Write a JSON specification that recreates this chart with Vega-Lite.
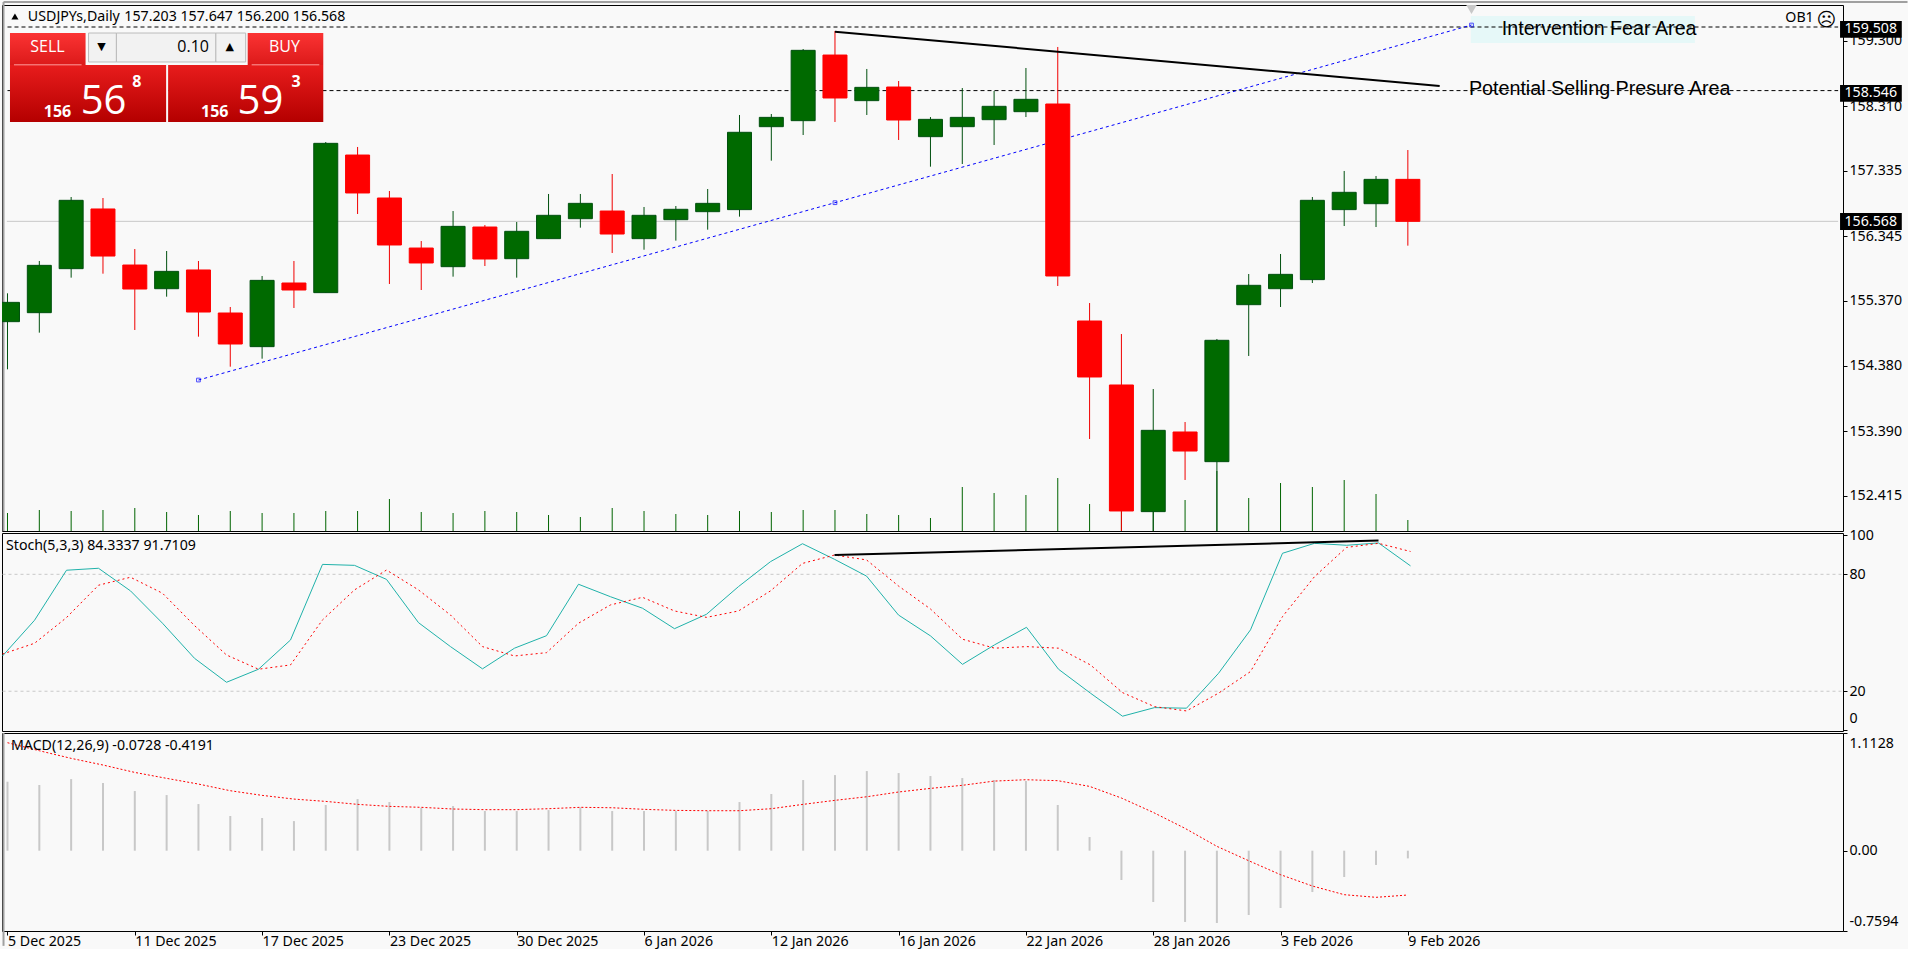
{
"$schema":"https://vega.github.io/schema/vega-lite/v6.json",
"background":"#f9f9f9",
"padding":{"left":-3,"top":0,"right":-2,"bottom":0},
"spacing":2,
"bounds":"flush",
"config":{"view":{"stroke":"#000000","strokeWidth":1},"axis":{"domain":false,"grid":false,"tickColor":"#000000","tickSize":4,"labelColor":"#000000","labelFont":"Noto Sans","labelFontSize":14.2,"labelPadding":2,"title":null},"text":{"font":"Noto Sans","fontSize":14.2,"color":"#000000","baseline":"middle","align":"left"}},
"datasets":{
"bars":[
{"bar":0,"date":"2025-12-05","open":155.05,"high":155.479,"low":154.329,"close":155.342,"volume":18,"k":38.1,"d":39.1,"hist":0.652,"signal":1.021},
{"bar":1,"date":"2025-12-08","open":155.186,"high":155.968,"low":154.884,"close":155.902,"volume":21,"k":56.4,"d":44.6,"hist":0.621,"signal":0.945},
{"bar":2,"date":"2025-12-09","open":155.852,"high":156.936,"low":155.716,"close":156.886,"volume":20,"k":82.1,"d":57.8,"hist":0.677,"signal":0.873},
{"bar":3,"date":"2025-12-10","open":156.755,"high":156.921,"low":155.776,"close":156.043,"volume":21,"k":83.1,"d":74.4,"hist":0.64,"signal":0.81},
{"bar":4,"date":"2025-12-11","open":155.907,"high":156.149,"low":154.924,"close":155.544,"volume":23,"k":71.5,"d":78.5,"hist":0.564,"signal":0.74},
{"bar":5,"date":"2025-12-12","open":155.549,"high":156.119,"low":155.428,"close":155.811,"volume":19,"k":54.9,"d":70.3,"hist":0.526,"signal":0.684},
{"bar":6,"date":"2025-12-15","open":155.832,"high":155.968,"low":154.823,"close":155.196,"volume":16,"k":36.9,"d":53.7,"hist":0.441,"signal":0.63},
{"bar":7,"date":"2025-12-16","open":155.181,"high":155.272,"low":154.369,"close":154.712,"volume":20,"k":24.6,"d":38.6,"hist":0.328,"signal":0.567},
{"bar":8,"date":"2025-12-17","open":154.672,"high":155.741,"low":154.49,"close":155.675,"volume":18,"k":31.3,"d":31.3,"hist":0.309,"signal":0.523},
{"bar":9,"date":"2025-12-18","open":155.635,"high":155.968,"low":155.257,"close":155.529,"volume":18,"k":46.3,"d":33.5,"hist":0.28,"signal":0.488},
{"bar":10,"date":"2025-12-19","open":155.489,"high":157.768,"low":155.489,"close":157.748,"volume":20,"k":85.1,"d":56.6,"hist":0.432,"signal":0.466},
{"bar":11,"date":"2025-12-22","open":157.571,"high":157.693,"low":156.679,"close":156.997,"volume":20,"k":84.6,"d":72,"hist":0.488,"signal":0.438},
{"bar":12,"date":"2025-12-23","open":156.921,"high":157.027,"low":155.62,"close":156.21,"volume":32,"k":77.4,"d":82.2,"hist":0.46,"signal":0.419},
{"bar":13,"date":"2025-12-24","open":156.164,"high":156.27,"low":155.529,"close":155.938,"volume":19,"k":55.2,"d":72,"hist":0.406,"signal":0.41},
{"bar":14,"date":"2025-12-26","open":155.882,"high":156.724,"low":155.731,"close":156.492,"volume":18,"k":42.9,"d":59.1,"hist":0.422,"signal":0.394},
{"bar":15,"date":"2025-12-29","open":156.482,"high":156.512,"low":155.892,"close":155.998,"volume":20,"k":31.5,"d":42.9,"hist":0.375,"signal":0.388},
{"bar":16,"date":"2025-12-30","open":156.003,"high":156.558,"low":155.716,"close":156.417,"volume":19,"k":42.1,"d":38.1,"hist":0.375,"signal":0.388},
{"bar":17,"date":"2025-12-31","open":156.306,"high":156.982,"low":156.306,"close":156.659,"volume":16,"k":48.5,"d":39.8,"hist":0.384,"signal":0.397},
{"bar":18,"date":"2026-01-02","open":156.608,"high":156.982,"low":156.472,"close":156.84,"volume":14,"k":74.9,"d":54.9,"hist":0.41,"signal":0.41},
{"bar":19,"date":"2026-01-05","open":156.724,"high":157.284,"low":156.089,"close":156.376,"volume":23,"k":68.5,"d":64.3,"hist":0.375,"signal":0.406},
{"bar":20,"date":"2026-01-06","open":156.306,"high":156.785,"low":156.139,"close":156.659,"volume":20,"k":62.6,"d":68.2,"hist":0.375,"signal":0.391},
{"bar":21,"date":"2026-01-07","open":156.593,"high":156.8,"low":156.276,"close":156.75,"volume":17,"k":52.1,"d":61.2,"hist":0.375,"signal":0.381},
{"bar":22,"date":"2026-01-08","open":156.714,"high":157.057,"low":156.442,"close":156.84,"volume":16,"k":59.5,"d":57.9,"hist":0.375,"signal":0.378},
{"bar":23,"date":"2026-01-09","open":156.745,"high":158.177,"low":156.639,"close":157.915,"volume":20,"k":73.7,"d":61.2,"hist":0.46,"signal":0.378},
{"bar":24,"date":"2026-01-12","open":158,"high":158.192,"low":157.486,"close":158.141,"volume":19,"k":86.5,"d":71.5,"hist":0.536,"signal":0.397},
{"bar":25,"date":"2026-01-13","open":158.091,"high":159.175,"low":157.874,"close":159.155,"volume":21,"k":95.7,"d":85.6,"hist":0.668,"signal":0.438},
{"bar":26,"date":"2026-01-14","open":159.084,"high":159.448,"low":158.071,"close":158.434,"volume":21,"k":87.7,"d":89.9,"hist":0.715,"signal":0.476},
{"bar":27,"date":"2026-01-15","open":158.394,"high":158.873,"low":158.177,"close":158.595,"volume":17,"k":79.1,"d":87.4,"hist":0.753,"signal":0.51},
{"bar":28,"date":"2026-01-16","open":158.6,"high":158.691,"low":157.799,"close":158.101,"volume":16,"k":59.1,"d":74,"hist":0.734,"signal":0.555},
{"bar":29,"date":"2026-01-19","open":157.849,"high":158.146,"low":157.395,"close":158.111,"volume":13,"k":48.4,"d":62.2,"hist":0.706,"signal":0.589},
{"bar":30,"date":"2026-01-20","open":158,"high":158.585,"low":157.435,"close":158.141,"volume":44,"k":33.8,"d":46.7,"hist":0.687,"signal":0.618},
{"bar":31,"date":"2026-01-21","open":158.106,"high":158.54,"low":157.723,"close":158.308,"volume":38,"k":43.8,"d":42.1,"hist":0.668,"signal":0.658},
{"bar":32,"date":"2026-01-22","open":158.227,"high":158.888,"low":158.146,"close":158.414,"volume":36,"k":52.8,"d":42.9,"hist":0.658,"signal":0.671},
{"bar":33,"date":"2026-01-23","open":158.343,"high":159.206,"low":155.59,"close":155.741,"volume":53,"k":31.3,"d":42.1,"hist":0.432,"signal":0.662},
{"bar":34,"date":"2026-01-26","open":155.06,"high":155.332,"low":153.275,"close":154.213,"volume":27,"k":19,"d":33.5,"hist":0.129,"signal":0.608},
{"bar":35,"date":"2026-01-27","open":154.092,"high":154.863,"low":151.85,"close":152.186,"volume":40,"k":7.2,"d":19.3,"hist":-0.277,"signal":0.498},
{"bar":36,"date":"2026-01-28","open":152.176,"high":154.031,"low":151.85,"close":153.406,"volume":40,"k":11.6,"d":12.1,"hist":-0.485,"signal":0.362},
{"bar":37,"date":"2026-01-29","open":153.381,"high":153.532,"low":152.655,"close":153.093,"volume":31,"k":11.3,"d":9.9,"hist":-0.674,"signal":0.211},
{"bar":38,"date":"2026-01-30","open":152.932,"high":154.788,"low":151.85,"close":154.768,"volume":60,"k":29.2,"d":19,"hist":-0.684,"signal":0.041},
{"bar":39,"date":"2026-02-02","open":155.307,"high":155.771,"low":154.531,"close":155.6,"volume":33,"k":51.5,"d":30.1,"hist":-0.608,"signal":-0.095},
{"bar":40,"date":"2026-02-03","open":155.549,"high":156.074,"low":155.272,"close":155.766,"volume":48,"k":90.8,"d":58.3,"hist":-0.542,"signal":-0.227},
{"bar":41,"date":"2026-02-04","open":155.686,"high":156.936,"low":155.635,"close":156.886,"volume":44,"k":95.9,"d":78.8,"hist":-0.391,"signal":-0.334},
{"bar":42,"date":"2026-02-05","open":156.745,"high":157.33,"low":156.497,"close":157.007,"volume":51,"k":94.9,"d":93.8,"hist":-0.249,"signal":-0.416},
{"bar":43,"date":"2026-02-06","open":156.835,"high":157.254,"low":156.482,"close":157.203,"volume":37,"k":96.1,"d":95.9,"hist":-0.135,"signal":-0.441},
{"bar":44,"date":"2026-02-09","open":157.203,"high":157.647,"low":156.2,"close":156.568,"volume":11,"k":84.3337,"d":91.7109,"hist":-0.0728,"signal":-0.4191}
],
"frametop":[{"bar":-0.125,"bar_end":59.7,"price":159.886}],
"frameleft":[{"bar":-0.125,"top":159.886,"bottom":151.883}],
"stochleft":[{"bar":-0.125,"top":101.2,"bottom":-0.4}],
"macdleft":[{"bar":-0.125,"top":1.1128,"bottom":-0.9}],
"levels":[{"bar":0,"bar_end":57.52,"price":159.508},{"bar":0,"bar_end":57.52,"price":158.546}],
"last":[{"bar":-0.02,"bar_end":57.52,"price":156.568}],
"badges":[
{"bar":57.58,"bar_end":59.52,"top":159.599,"bottom":159.346,"mid":159.472,"text_bar":57.72,"label":"159.508"},
{"bar":57.58,"bar_end":59.52,"top":158.63,"bottom":158.378,"mid":158.504,"text_bar":57.72,"label":"158.546"},
{"bar":57.58,"bar_end":59.52,"top":156.694,"bottom":156.436,"mid":156.565,"text_bar":57.72,"label":"156.568"}
],
"bluetrend":[{"bar":6,"price":154.167},{"bar":26,"price":156.85},{"bar":46,"price":159.538}],
"blacktrend":[{"bar":26,"price":159.438},{"bar":45,"price":158.615}],
"stochtrend":[{"bar":26,"value":89.9},{"bar":43,"value":97.3}],
"stochlevels":[{"bar":0,"bar_end":57.52,"value":80},{"bar":0,"bar_end":57.52,"value":20}],
"area":[{"bar":45.98,"bar_end":53.02,"top":159.674,"bottom":159.266}],
"shift":[{"bar":46,"price":159.773}],
"notes":[{"bar":46.95,"price":159.478,"label":"Intervention Fear Area"},{"bar":45.92,"price":158.57,"label":"Potential Selling Presure Area"}],
"header":[{"bar":0.64,"price":159.659,"label":"USDJPYs,Daily"},{"bar":3.67,"price":159.659,"label":"157.203 157.647 156.200 156.568"},{"bar":55.86,"price":159.644,"label":"OB1"}],
"arrow":[{"bar":0.234,"price":159.667}],
"smile":[{"bar":57.15,"price":159.614,"label":"☹"}],
"tabs":[{"bar":0.078,"bar_end":2.453,"top":159.417,"bottom":158.933},{"bar":7.547,"bar_end":9.922,"top":159.417,"bottom":158.933}],
"quotes":[{"bar":0.078,"bar_end":4.984,"top":158.933,"bottom":158.071},{"bar":5.047,"bar_end":9.922,"top":158.933,"bottom":158.071}],
"lots":[{"bar":2.547,"bar_end":3.422,"top":159.417,"bottom":158.979},{"bar":3.422,"bar_end":6.547,"top":159.417,"bottom":158.979},{"bar":6.547,"bar_end":7.484,"top":159.417,"bottom":158.979}],
"underlines":[{"bar":0.203,"bar_end":2.328,"price":158.936},{"bar":7.672,"bar_end":9.797,"price":158.936}],
"tabtext":[{"bar":1.255,"price":159.205,"label":"SELL"},{"bar":8.7,"price":159.205,"label":"BUY"}],
"lotvalue":[{"bar":6.33,"price":159.205,"label":"0.10"}],
"lotarrows":[{"bar":2.95,"price":159.205,"label":"▼"},{"bar":6.98,"price":159.205,"label":"▲"}],
"smallquote":[{"bar":1.14,"price":158.22,"label":"156"},{"bar":6.08,"price":158.22,"label":"156"},{"bar":3.92,"price":158.68,"label":"8"},{"bar":8.92,"price":158.68,"label":"3"}],
"bigquote":[{"bar":2.3,"price":158.37,"label":"56"},{"bar":7.23,"price":158.37,"label":"59"}],
"stochtext":[{"bar":0.11,"value":94.5,"label":"Stoch(5,3,3) 84.3337 91.7109"}],
"macdtext":[{"bar":0.11,"value":0.99,"label":"MACD(12,26,9) -0.0728 -0.4191"}]
},
"vconcat":[
{"width":1841,"height":526,
"encoding":{"x":{"field":"bar","type":"quantitative","axis":null,"scale":{"domain":[-0.015625,57.515625],"nice":false,"zero":false}}},
"layer":[
{"data":{"name":"bars"},"mark":{"type":"rule","color":"#006400","strokeWidth":1},"encoding":{"y":{"field":"volume","type":"quantitative","axis":null,"scale":{"domain":[0,526],"nice":false}},"y2":{"datum":0}}},
{"layer":[
{"data":{"name":"frametop"},"mark":{"type":"rule","color":"#a0a0a0","strokeWidth":2},"encoding":{"x2":{"field":"bar_end"},"y":{"field":"price","type":"quantitative","axis":null}}},
{"data":{"name":"frameleft"},"mark":{"type":"rule","color":"#a0a0a0","strokeWidth":2},"encoding":{"y":{"field":"top","type":"quantitative","axis":null},"y2":{"field":"bottom"}}},
{"data":{"name":"area"},"mark":{"type":"rect","fill":"#e6f8f8"},"encoding":{"x2":{"field":"bar_end"},"y":{"field":"top","type":"quantitative","axis":null},"y2":{"field":"bottom"}}},
{"data":{"name":"last"},"mark":{"type":"rule","color":"#c8c8c8","strokeWidth":1},"encoding":{"x2":{"field":"bar_end"},"y":{"field":"price","type":"quantitative","title":null,"scale":{"domain":[151.883,159.841],"nice":false,"zero":false},"axis":{"orient":"right","values":[159.3,158.31,157.335,156.345,155.37,154.38,153.39,152.415],"format":".3f"}}}},
{"data":{"name":"levels"},"mark":{"type":"rule","color":"#000000","strokeWidth":1,"strokeDash":[4,3]},"encoding":{"x2":{"field":"bar_end"},"y":{"field":"price","type":"quantitative","axis":null}}},
{"data":{"name":"bluetrend"},"mark":{"type":"line","color":"#0000ff","strokeWidth":1,"strokeDash":[3,3]},"encoding":{"y":{"field":"price","type":"quantitative","axis":null}}},
{"data":{"name":"bluetrend"},"mark":{"type":"point","shape":"square","size":14,"filled":false,"color":"#0000ff","strokeWidth":1},"encoding":{"y":{"field":"price","type":"quantitative","axis":null}}},
{"data":{"name":"bars"},"mark":{"type":"rule","strokeWidth":1,"clip":true},"encoding":{"y":{"field":"low","type":"quantitative","axis":null},"y2":{"field":"high"},"color":{"condition":{"test":"datum.close>datum.open","value":"#00500f"},"value":"#f00000"}}},
{"data":{"name":"bars"},"mark":{"type":"bar","size":24,"orient":"vertical","strokeWidth":1,"clip":true},"encoding":{"y":{"field":"open","type":"quantitative","axis":null},"y2":{"field":"close"},"fill":{"condition":{"test":"datum.close>datum.open","value":"#006a00"},"value":"#ff0000"},"stroke":{"condition":{"test":"datum.close>datum.open","value":"#00500f"},"value":"#ff0000"}}},
{"data":{"name":"blacktrend"},"mark":{"type":"line","color":"#000000","strokeWidth":2},"encoding":{"y":{"field":"price","type":"quantitative","axis":null}}},
{"data":{"name":"shift"},"mark":{"type":"point","shape":"triangle-down","size":110,"filled":true,"opacity":1,"color":"#c8c8c8"},"encoding":{"y":{"field":"price","type":"quantitative","axis":null}}},
{"data":{"name":"notes"},"mark":{"type":"text","font":"Liberation Sans","fontSize":19.7},"encoding":{"y":{"field":"price","type":"quantitative","axis":null},"text":{"field":"label"}}},
{"data":{"name":"header"},"mark":{"type":"text"},"encoding":{"y":{"field":"price","type":"quantitative","axis":null},"text":{"field":"label"}}},
{"data":{"name":"arrow"},"mark":{"type":"point","shape":"triangle-up","size":50,"filled":true,"opacity":1,"color":"#000000"},"encoding":{"y":{"field":"price","type":"quantitative","axis":null}}},
{"data":{"name":"smile"},"mark":{"type":"text","font":"DejaVu Sans","fontSize":19,"align":"center"},"encoding":{"y":{"field":"price","type":"quantitative","axis":null},"text":{"field":"label"}}},
{"data":{"name":"tabs"},"mark":{"type":"rect","fill":{"gradient":"linear","x1":0,"y1":0,"x2":0,"y2":1,"stops":[{"offset":0,"color":"#fb3333"},{"offset":1,"color":"#dc1a1a"}]}},"encoding":{"x2":{"field":"bar_end"},"y":{"field":"top","type":"quantitative","axis":null},"y2":{"field":"bottom"}}},
{"data":{"name":"quotes"},"mark":{"type":"rect","fill":{"gradient":"linear","x1":0,"y1":0,"x2":0,"y2":1,"stops":[{"offset":0,"color":"#e81c1c"},{"offset":1,"color":"#b40000"}]}},"encoding":{"x2":{"field":"bar_end"},"y":{"field":"top","type":"quantitative","axis":null},"y2":{"field":"bottom"}}},
{"data":{"name":"lots"},"mark":{"type":"rect","fill":"#f2f2f2","stroke":"#bbbbbb","strokeWidth":1},"encoding":{"x2":{"field":"bar_end"},"y":{"field":"top","type":"quantitative","axis":null},"y2":{"field":"bottom"}}},
{"data":{"name":"underlines"},"mark":{"type":"rule","color":"#ff9c9c","strokeWidth":1},"encoding":{"x2":{"field":"bar_end"},"y":{"field":"price","type":"quantitative","axis":null}}},
{"data":{"name":"tabtext"},"mark":{"type":"text","font":"Open Sans","fontSize":16,"align":"center","color":"#ffffff"},"encoding":{"y":{"field":"price","type":"quantitative","axis":null},"text":{"field":"label"}}},
{"data":{"name":"lotvalue"},"mark":{"type":"text","font":"Open Sans","fontSize":16,"align":"right","color":"#000000"},"encoding":{"y":{"field":"price","type":"quantitative","axis":null},"text":{"field":"label"}}},
{"data":{"name":"lotarrows"},"mark":{"type":"text","font":"DejaVu Sans","fontSize":11,"align":"center","color":"#000000"},"encoding":{"y":{"field":"price","type":"quantitative","axis":null},"text":{"field":"label"}}},
{"data":{"name":"smallquote"},"mark":{"type":"text","font":"Open Sans","fontSize":16,"fontWeight":"bold","color":"#ffffff"},"encoding":{"y":{"field":"price","type":"quantitative","axis":null},"text":{"field":"label"}}},
{"data":{"name":"bigquote"},"mark":{"type":"text","font":"Open Sans","fontSize":40,"color":"#ffffff"},"encoding":{"y":{"field":"price","type":"quantitative","axis":null},"text":{"field":"label"}}},
{"data":{"name":"badges"},"mark":{"type":"rect","fill":"#000000"},"encoding":{"x2":{"field":"bar_end"},"y":{"field":"top","type":"quantitative","axis":null},"y2":{"field":"bottom"}}},
{"data":{"name":"badges"},"mark":{"type":"text","color":"#ffffff"},"encoding":{"x":{"field":"text_bar","type":"quantitative"},"y":{"field":"mid","type":"quantitative","axis":null},"text":{"field":"label"}}}
],"resolve":{"axis":{"y":"independent"}}}
],
"resolve":{"scale":{"y":"independent"}}
},
{"width":1841,"height":198,
"encoding":{"x":{"field":"bar","type":"quantitative","axis":null,"scale":{"domain":[-0.015625,57.515625],"nice":false,"zero":false}}},
"resolve":{"axis":{"y":"independent"}},
"layer":[
{"data":{"name":"stochleft"},"mark":{"type":"rule","color":"#a0a0a0","strokeWidth":2},"encoding":{"y":{"field":"top","type":"quantitative","axis":null},"y2":{"field":"bottom"}}},
{"data":{"name":"stochlevels"},"mark":{"type":"rule","color":"#c8c8c8","strokeWidth":1,"strokeDash":[3,3]},"encoding":{"x2":{"field":"bar_end"},"y":{"field":"value","type":"quantitative","scale":{"domain":[-0.4,101.2],"nice":false,"zero":false},"axis":{"orient":"right","values":[0,20,80,100],"labelFlush":true,"labelFlushOffset":-5}}}},
{"data":{"name":"bars"},"mark":{"type":"line","color":"#20b2aa","strokeWidth":1},"encoding":{"y":{"field":"k","type":"quantitative","axis":null}}},
{"data":{"name":"bars"},"mark":{"type":"line","color":"#ff0000","strokeWidth":1,"strokeDash":[2,3]},"encoding":{"y":{"field":"d","type":"quantitative","axis":null}}},
{"data":{"name":"stochtrend"},"mark":{"type":"line","color":"#000000","strokeWidth":2},"encoding":{"y":{"field":"value","type":"quantitative","axis":null}}},
{"data":{"name":"stochtext"},"mark":{"type":"text"},"encoding":{"y":{"field":"value","type":"quantitative","axis":null},"text":{"field":"label"}}}
]
},
{"width":1841,"height":198,
"encoding":{"x":{"field":"bar","type":"quantitative","scale":{"domain":[-0.015625,57.515625],"nice":false,"zero":false},"axis":{"values":[0,4,8,12,16,20,24,28,32,36,40,44],"labelAlign":"left","labelFlush":false,"labelOverlap":false,"labelPadding":-1,"labelExpr":"['5 Dec 2025','11 Dec 2025','17 Dec 2025','23 Dec 2025','30 Dec 2025','6 Jan 2026','12 Jan 2026','16 Jan 2026','22 Jan 2026','28 Jan 2026','3 Feb 2026','9 Feb 2026'][datum.value/4]"}}},
"resolve":{"axis":{"y":"independent"}},
"layer":[
{"data":{"name":"macdleft"},"mark":{"type":"rule","color":"#a0a0a0","strokeWidth":2},"encoding":{"y":{"field":"top","type":"quantitative","axis":null},"y2":{"field":"bottom"}}},
{"data":{"name":"bars"},"mark":{"type":"bar","size":2,"color":"#c8c8c8","orient":"vertical","clip":true},"encoding":{"y":{"field":"hist","type":"quantitative","scale":{"domain":[-0.7594,1.1128],"nice":false,"zero":false},"axis":{"orient":"right","values":[-0.7594,0,1.1128],"labelFlush":true,"labelFlushOffset":-3,"labelExpr":"datum.value==0?'0.00':datum.value==1.1128?'1.1128':'-0.7594'"}},"y2":{"datum":0}}},
{"data":{"name":"bars"},"mark":{"type":"line","color":"#ff0000","strokeWidth":1,"strokeDash":[2,2]},"encoding":{"y":{"field":"signal","type":"quantitative","axis":null}}},
{"data":{"name":"macdtext"},"mark":{"type":"text"},"encoding":{"y":{"field":"value","type":"quantitative","axis":null},"text":{"field":"label"}}}
]
}
]
}
